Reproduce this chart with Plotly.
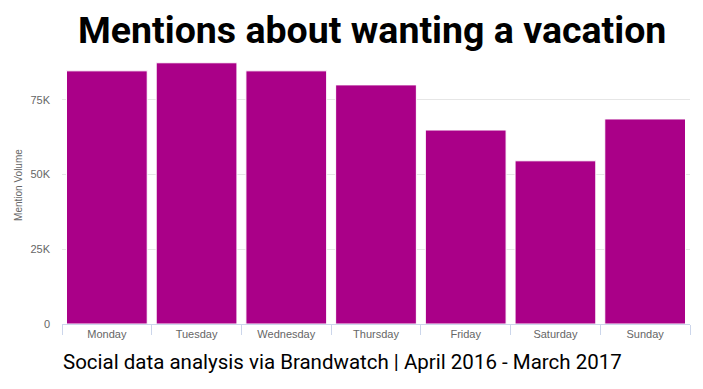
import plotly.graph_objects as go

days = ["Monday", "Tuesday", "Wednesday", "Thursday", "Friday", "Saturday", "Sunday"]
mentions = [84700, 87400, 84700, 80000, 64900, 54600, 68600]
ytick_vals = [0, 25000, 50000, 75000]
ytick_text = ["0", "25K", "50K", "75K"]

fig = go.Figure(go.Bar(
    x=days, y=mentions,
    marker=dict(color="#AA0088", line=dict(color="#ffffff", width=1)),
))

fig.update_layout(
    width=695, height=381,
    margin=dict(l=54, r=13, t=47, b=65),
    paper_bgcolor="white", plot_bgcolor="white",
    bargap=0.1,
    showlegend=False,
    font=dict(family="Liberation Sans, Arial", color="#666666", size=11),
    title=dict(text="<b>Mentions about wanting a vacation</b>",
               x=0.524, xanchor="center", y=0.942, yanchor="middle",
               font=dict(family="Roboto", size=37.5, color="#000000")),
)
fig.update_xaxes(
    automargin=False,
    showline=True, linecolor="#ccd6eb", linewidth=1,
    ticks="outside", tickson="boundaries", tickcolor="#ccd6eb", ticklen=10,
    tickfont=dict(size=11, color="#666666"),
    showgrid=False,
)
fig.update_yaxes(
    automargin=False,
    range=[0, 90000], tickvals=ytick_vals, ticktext=ytick_text,
    showgrid=True, gridcolor="#e6e6e6", zeroline=False,
    tickfont=dict(size=11, color="#666666"), ticklabelstandoff=11,
)
fig.add_annotation(
    text="Mention Volume", textangle=-90,
    xref="paper", yref="paper", x=-0.0685, y=0.517, xanchor="center", yanchor="middle",
    showarrow=False, font=dict(family="Liberation Sans, Arial", size=10, color="#666666"),
)
fig.add_annotation(
    text="Social data analysis via Brandwatch | April 2016 - March 2017",
    xref="paper", yref="paper", x=-0.002, y=-0.14, xanchor="left", yanchor="middle",
    showarrow=False, font=dict(family="Roboto", size=20.5, color="#000000"),
)

fig.write_html("out.html")
